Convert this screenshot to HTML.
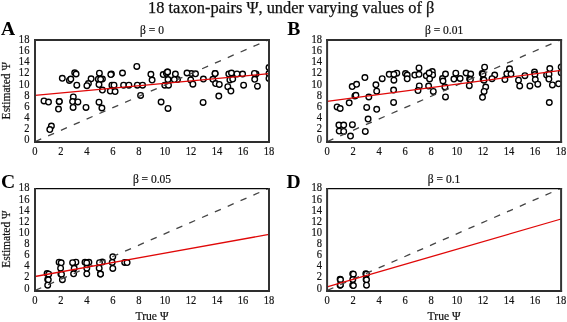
<!DOCTYPE html>
<html><head><meta charset="utf-8"><style>
html,body{margin:0;padding:0;background:#fff;}
body{width:567px;height:322px;overflow:hidden;}
svg{display:block;will-change:transform;}
</style></head><body>
<svg width="567" height="322" viewBox="0 0 567 322">
<rect width="567" height="322" fill="#fff"/>
<text x="291.2" y="13.3" font-size="16.4" text-anchor="middle" font-family='"Liberation Serif", serif' fill="#111" stroke="#111" stroke-width="0.25">18 taxon-pairs Ψ, under varying values of β</text>
<clipPath id="clipA"><rect x="35.0" y="40.0" width="234.0" height="102.0"/></clipPath>
<g fill="#fff" stroke="#000" stroke-width="1.35" clip-path="url(#clipA)">
<circle cx="62.3" cy="78.3" r="2.8"/>
<circle cx="69.4" cy="80.4" r="2.8"/>
<circle cx="70.8" cy="79.1" r="2.8"/>
<circle cx="74.7" cy="72.8" r="2.8"/>
<circle cx="76.1" cy="74" r="2.8"/>
<circle cx="76.8" cy="85.2" r="2.8"/>
<circle cx="91.1" cy="78.8" r="2.8"/>
<circle cx="88.4" cy="83.6" r="2.8"/>
<circle cx="86.9" cy="85.7" r="2.8"/>
<circle cx="44" cy="100.9" r="2.8"/>
<circle cx="48.5" cy="102.1" r="2.8"/>
<circle cx="59.2" cy="101.4" r="2.8"/>
<circle cx="59.3" cy="101.5" r="2.8"/>
<circle cx="58.5" cy="109.1" r="2.8"/>
<circle cx="73.3" cy="96.9" r="2.8"/>
<circle cx="72.6" cy="101.6" r="2.8"/>
<circle cx="77.9" cy="101.9" r="2.8"/>
<circle cx="73.1" cy="107.4" r="2.8"/>
<circle cx="86" cy="107.4" r="2.8"/>
<circle cx="51.4" cy="126" r="2.8"/>
<circle cx="49.8" cy="129.5" r="2.8"/>
<circle cx="99.4" cy="73.2" r="2.8"/>
<circle cx="98.3" cy="79.2" r="2.8"/>
<circle cx="102.4" cy="79.1" r="2.8"/>
<circle cx="100.6" cy="79.3" r="2.8"/>
<circle cx="99" cy="84.6" r="2.8"/>
<circle cx="111.4" cy="74" r="2.8"/>
<circle cx="110.8" cy="74.6" r="2.8"/>
<circle cx="122.5" cy="73" r="2.8"/>
<circle cx="136.8" cy="66.4" r="2.8"/>
<circle cx="150.9" cy="74.3" r="2.8"/>
<circle cx="152.1" cy="80.1" r="2.8"/>
<circle cx="111.9" cy="85.2" r="2.8"/>
<circle cx="114" cy="85.2" r="2.8"/>
<circle cx="123.6" cy="85.2" r="2.8"/>
<circle cx="128.9" cy="85.2" r="2.8"/>
<circle cx="137.3" cy="85.2" r="2.8"/>
<circle cx="142.6" cy="85.2" r="2.8"/>
<circle cx="102.4" cy="90.1" r="2.8"/>
<circle cx="110.3" cy="91.1" r="2.8"/>
<circle cx="115.1" cy="91.6" r="2.8"/>
<circle cx="140.6" cy="95.4" r="2.8"/>
<circle cx="99" cy="102.2" r="2.8"/>
<circle cx="101.9" cy="108" r="2.8"/>
<circle cx="163.2" cy="74.6" r="2.8"/>
<circle cx="166.4" cy="73.3" r="2.8"/>
<circle cx="167.5" cy="71.9" r="2.8"/>
<circle cx="167.6" cy="72.0" r="2.8"/>
<circle cx="175.4" cy="74" r="2.8"/>
<circle cx="168" cy="79.6" r="2.8"/>
<circle cx="177.5" cy="79.6" r="2.8"/>
<circle cx="174.3" cy="79.6" r="2.8"/>
<circle cx="164.8" cy="85.2" r="2.8"/>
<circle cx="168.5" cy="85.2" r="2.8"/>
<circle cx="191.3" cy="73.5" r="2.8"/>
<circle cx="187" cy="73" r="2.8"/>
<circle cx="195.5" cy="73.8" r="2.8"/>
<circle cx="190.7" cy="79.9" r="2.8"/>
<circle cx="192.9" cy="84.2" r="2.8"/>
<circle cx="203.4" cy="79.1" r="2.8"/>
<circle cx="161.1" cy="102" r="2.8"/>
<circle cx="168" cy="108.4" r="2.8"/>
<circle cx="203.1" cy="102.4" r="2.8"/>
<circle cx="215.1" cy="73.5" r="2.8"/>
<circle cx="215.1" cy="73.6" r="2.8"/>
<circle cx="212.9" cy="79.3" r="2.8"/>
<circle cx="215.6" cy="83.6" r="2.8"/>
<circle cx="219.3" cy="84.4" r="2.8"/>
<circle cx="228.8" cy="74" r="2.8"/>
<circle cx="231.5" cy="73" r="2.8"/>
<circle cx="237.0" cy="73.9" r="2.8"/>
<circle cx="242.6" cy="74" r="2.8"/>
<circle cx="229.9" cy="79.9" r="2.8"/>
<circle cx="232.7" cy="79.1" r="2.8"/>
<circle cx="227.8" cy="86.7" r="2.8"/>
<circle cx="230.9" cy="91.1" r="2.8"/>
<circle cx="243.6" cy="85.2" r="2.8"/>
<circle cx="256.0" cy="74.0" r="2.8"/>
<circle cx="254.4" cy="73.4" r="2.8"/>
<circle cx="254.7" cy="79.3" r="2.8"/>
<circle cx="257.4" cy="86.2" r="2.8"/>
<circle cx="218.8" cy="96.1" r="2.8"/>
<circle cx="269" cy="67.5" r="2.8"/>
<circle cx="269" cy="73.6" r="2.8"/>
<circle cx="269" cy="78.4" r="2.8"/>
</g>
<line x1="35.0" y1="141.6" x2="269.0" y2="39.6" stroke="#444" stroke-width="1.3" stroke-dasharray="6.5 7.5" stroke-dashoffset="-0.3" clip-path="url(#clipA)"/>
<line x1="35.0" y1="95.3" x2="269.0" y2="73.7" stroke="#e00808" stroke-width="1.3"/>
<line x1="34.0" y1="40.0" x2="270.0" y2="40.0" stroke="#2e2e2e" stroke-width="2"/>
<line x1="34.0" y1="142.0" x2="270.0" y2="142.0" stroke="#2e2e2e" stroke-width="2"/>
<line x1="35.0" y1="39.35" x2="35.0" y2="143.0" stroke="#333" stroke-width="2"/>
<line x1="269.0" y1="39.35" x2="269.0" y2="143.0" stroke="#333" stroke-width="2"/>
<text transform="translate(29.40,143.20) scale(0.85,1)" font-size="12.4" text-anchor="end" font-family='"Liberation Serif", serif' fill="#111" stroke="#111" stroke-width="0.2">0</text>
<text transform="translate(29.40,132.07) scale(0.85,1)" font-size="12.4" text-anchor="end" font-family='"Liberation Serif", serif' fill="#111" stroke="#111" stroke-width="0.2">2</text>
<text transform="translate(29.40,120.94) scale(0.85,1)" font-size="12.4" text-anchor="end" font-family='"Liberation Serif", serif' fill="#111" stroke="#111" stroke-width="0.2">4</text>
<text transform="translate(29.40,109.81) scale(0.85,1)" font-size="12.4" text-anchor="end" font-family='"Liberation Serif", serif' fill="#111" stroke="#111" stroke-width="0.2">6</text>
<text transform="translate(29.40,98.68) scale(0.85,1)" font-size="12.4" text-anchor="end" font-family='"Liberation Serif", serif' fill="#111" stroke="#111" stroke-width="0.2">8</text>
<text transform="translate(29.40,87.55) scale(0.85,1)" font-size="12.4" text-anchor="end" font-family='"Liberation Serif", serif' fill="#111" stroke="#111" stroke-width="0.2">10</text>
<text transform="translate(29.40,76.42) scale(0.85,1)" font-size="12.4" text-anchor="end" font-family='"Liberation Serif", serif' fill="#111" stroke="#111" stroke-width="0.2">12</text>
<text transform="translate(29.40,65.29) scale(0.85,1)" font-size="12.4" text-anchor="end" font-family='"Liberation Serif", serif' fill="#111" stroke="#111" stroke-width="0.2">14</text>
<text transform="translate(29.40,54.16) scale(0.85,1)" font-size="12.4" text-anchor="end" font-family='"Liberation Serif", serif' fill="#111" stroke="#111" stroke-width="0.2">16</text>
<text transform="translate(29.40,43.03) scale(0.85,1)" font-size="12.4" text-anchor="end" font-family='"Liberation Serif", serif' fill="#111" stroke="#111" stroke-width="0.2">18</text>
<text transform="translate(35.00,155.00) scale(0.85,1)" font-size="12.4" text-anchor="middle" font-family='"Liberation Serif", serif' fill="#111" stroke="#111" stroke-width="0.2">0</text>
<text transform="translate(61.00,155.00) scale(0.85,1)" font-size="12.4" text-anchor="middle" font-family='"Liberation Serif", serif' fill="#111" stroke="#111" stroke-width="0.2">2</text>
<text transform="translate(87.00,155.00) scale(0.85,1)" font-size="12.4" text-anchor="middle" font-family='"Liberation Serif", serif' fill="#111" stroke="#111" stroke-width="0.2">4</text>
<text transform="translate(113.00,155.00) scale(0.85,1)" font-size="12.4" text-anchor="middle" font-family='"Liberation Serif", serif' fill="#111" stroke="#111" stroke-width="0.2">6</text>
<text transform="translate(139.00,155.00) scale(0.85,1)" font-size="12.4" text-anchor="middle" font-family='"Liberation Serif", serif' fill="#111" stroke="#111" stroke-width="0.2">8</text>
<text transform="translate(165.00,155.00) scale(0.85,1)" font-size="12.4" text-anchor="middle" font-family='"Liberation Serif", serif' fill="#111" stroke="#111" stroke-width="0.2">10</text>
<text transform="translate(191.00,155.00) scale(0.85,1)" font-size="12.4" text-anchor="middle" font-family='"Liberation Serif", serif' fill="#111" stroke="#111" stroke-width="0.2">12</text>
<text transform="translate(217.00,155.00) scale(0.85,1)" font-size="12.4" text-anchor="middle" font-family='"Liberation Serif", serif' fill="#111" stroke="#111" stroke-width="0.2">14</text>
<text transform="translate(243.00,155.00) scale(0.85,1)" font-size="12.4" text-anchor="middle" font-family='"Liberation Serif", serif' fill="#111" stroke="#111" stroke-width="0.2">16</text>
<text transform="translate(269.00,155.00) scale(0.85,1)" font-size="12.4" text-anchor="middle" font-family='"Liberation Serif", serif' fill="#111" stroke="#111" stroke-width="0.2">18</text>
<text x="152.00" y="33.70" font-size="11.5" text-anchor="middle" font-family='"Liberation Serif", serif' fill="#111" stroke="#111" stroke-width="0.2">β = 0</text>
<text x="1.0" y="35.0" font-size="19.6" font-weight="bold" font-family='"Liberation Serif", serif' fill="#000">A</text>
<text transform="translate(9.7,90.7) rotate(-90) scale(0.96,1)" x="0" y="0" font-size="12" text-anchor="middle" font-family='"Liberation Serif", serif' fill="#111" stroke="#111" stroke-width="0.2">Estimated Ψ</text>
<clipPath id="clipB"><rect x="327.1" y="40.0" width="234.0" height="102.0"/></clipPath>
<g fill="#fff" stroke="#000" stroke-width="1.35" clip-path="url(#clipB)">
<circle cx="352.2" cy="86.6" r="2.8"/>
<circle cx="356.6" cy="84.3" r="2.8"/>
<circle cx="364.9" cy="77.6" r="2.8"/>
<circle cx="354.9" cy="95.9" r="2.8"/>
<circle cx="355.9" cy="95.3" r="2.8"/>
<circle cx="368.8" cy="97" r="2.8"/>
<circle cx="375.9" cy="84.8" r="2.8"/>
<circle cx="376.7" cy="91.2" r="2.8"/>
<circle cx="382.2" cy="78.7" r="2.8"/>
<circle cx="349.2" cy="102.8" r="2.8"/>
<circle cx="337.1" cy="106.9" r="2.8"/>
<circle cx="340.2" cy="108.5" r="2.8"/>
<circle cx="366.7" cy="107.4" r="2.8"/>
<circle cx="376.7" cy="109.3" r="2.8"/>
<circle cx="368.1" cy="119.1" r="2.8"/>
<circle cx="338.9" cy="125.1" r="2.8"/>
<circle cx="343.7" cy="125.1" r="2.8"/>
<circle cx="352.4" cy="124.7" r="2.8"/>
<circle cx="339.2" cy="131.1" r="2.8"/>
<circle cx="343.7" cy="131.4" r="2.8"/>
<circle cx="350.5" cy="136" r="2.8"/>
<circle cx="365.3" cy="131.4" r="2.8"/>
<circle cx="389.2" cy="74.3" r="2.8"/>
<circle cx="396.8" cy="73.2" r="2.8"/>
<circle cx="393.9" cy="74.3" r="2.8"/>
<circle cx="393.9" cy="80.2" r="2.8"/>
<circle cx="405.5" cy="73.5" r="2.8"/>
<circle cx="407.2" cy="75.1" r="2.8"/>
<circle cx="407.2" cy="78.8" r="2.8"/>
<circle cx="419" cy="67.9" r="2.8"/>
<circle cx="414.8" cy="75.1" r="2.8"/>
<circle cx="419" cy="74.3" r="2.8"/>
<circle cx="432.3" cy="71.6" r="2.8"/>
<circle cx="432.6" cy="74.9" r="2.8"/>
<circle cx="426.3" cy="75.8" r="2.8"/>
<circle cx="429.1" cy="73.0" r="2.8"/>
<circle cx="429.6" cy="78.9" r="2.8"/>
<circle cx="419.3" cy="85.9" r="2.8"/>
<circle cx="428.6" cy="86.1" r="2.8"/>
<circle cx="442.5" cy="78.5" r="2.8"/>
<circle cx="443.0" cy="81.0" r="2.8"/>
<circle cx="393.6" cy="90.1" r="2.8"/>
<circle cx="393.6" cy="102.4" r="2.8"/>
<circle cx="418" cy="90.6" r="2.8"/>
<circle cx="433.3" cy="91.4" r="2.8"/>
<circle cx="445.5" cy="74" r="2.8"/>
<circle cx="444.9" cy="86.9" r="2.8"/>
<circle cx="445.5" cy="96.9" r="2.8"/>
<circle cx="455.8" cy="73.2" r="2.8"/>
<circle cx="453.9" cy="79.1" r="2.8"/>
<circle cx="460.1" cy="78.5" r="2.8"/>
<circle cx="466.1" cy="73" r="2.8"/>
<circle cx="470.7" cy="74" r="2.8"/>
<circle cx="469.6" cy="79.0" r="2.8"/>
<circle cx="470.4" cy="79.6" r="2.8"/>
<circle cx="469.3" cy="85.7" r="2.8"/>
<circle cx="484.6" cy="67.2" r="2.8"/>
<circle cx="482.2" cy="73.6" r="2.8"/>
<circle cx="483.0" cy="74.2" r="2.8"/>
<circle cx="483.2" cy="79.6" r="2.8"/>
<circle cx="484.0" cy="80.2" r="2.8"/>
<circle cx="485.7" cy="87" r="2.8"/>
<circle cx="484.1" cy="91.4" r="2.8"/>
<circle cx="482.5" cy="97.3" r="2.8"/>
<circle cx="494.7" cy="75" r="2.8"/>
<circle cx="492" cy="78.7" r="2.8"/>
<circle cx="509.5" cy="68.8" r="2.8"/>
<circle cx="506.8" cy="73.8" r="2.8"/>
<circle cx="511" cy="74" r="2.8"/>
<circle cx="504.9" cy="79.6" r="2.8"/>
<circle cx="518.5" cy="80.2" r="2.8"/>
<circle cx="519.7" cy="85.9" r="2.8"/>
<circle cx="524.9" cy="75.7" r="2.8"/>
<circle cx="529.9" cy="85.9" r="2.8"/>
<circle cx="534.5" cy="72" r="2.8"/>
<circle cx="534.9" cy="74.5" r="2.8"/>
<circle cx="535.3" cy="79.6" r="2.8"/>
<circle cx="537.8" cy="84.2" r="2.8"/>
<circle cx="549.8" cy="68.6" r="2.8"/>
<circle cx="546.6" cy="74.9" r="2.8"/>
<circle cx="549" cy="74.2" r="2.8"/>
<circle cx="548.9" cy="79.1" r="2.8"/>
<circle cx="552.4" cy="84.9" r="2.8"/>
<circle cx="558.6" cy="83.8" r="2.8"/>
<circle cx="549.3" cy="102.5" r="2.8"/>
<circle cx="561.2" cy="67" r="2.8"/>
<circle cx="561.2" cy="72.8" r="2.8"/>
</g>
<line x1="327.1" y1="141.6" x2="561.1" y2="39.6" stroke="#444" stroke-width="1.3" stroke-dasharray="6.5 7.5" stroke-dashoffset="-0.3" clip-path="url(#clipB)"/>
<line x1="327.1" y1="101.3" x2="561.1" y2="70.4" stroke="#e00808" stroke-width="1.3"/>
<line x1="326.1" y1="40.0" x2="562.1" y2="40.0" stroke="#2e2e2e" stroke-width="2"/>
<line x1="326.1" y1="142.0" x2="562.1" y2="142.0" stroke="#2e2e2e" stroke-width="2"/>
<line x1="327.1" y1="39.35" x2="327.1" y2="143.0" stroke="#333" stroke-width="2"/>
<line x1="561.1" y1="39.35" x2="561.1" y2="143.0" stroke="#333" stroke-width="2"/>
<text transform="translate(322.10,143.20) scale(0.85,1)" font-size="12.4" text-anchor="end" font-family='"Liberation Serif", serif' fill="#111" stroke="#111" stroke-width="0.2">0</text>
<text transform="translate(322.10,132.07) scale(0.85,1)" font-size="12.4" text-anchor="end" font-family='"Liberation Serif", serif' fill="#111" stroke="#111" stroke-width="0.2">2</text>
<text transform="translate(322.10,120.94) scale(0.85,1)" font-size="12.4" text-anchor="end" font-family='"Liberation Serif", serif' fill="#111" stroke="#111" stroke-width="0.2">4</text>
<text transform="translate(322.10,109.81) scale(0.85,1)" font-size="12.4" text-anchor="end" font-family='"Liberation Serif", serif' fill="#111" stroke="#111" stroke-width="0.2">6</text>
<text transform="translate(322.10,98.68) scale(0.85,1)" font-size="12.4" text-anchor="end" font-family='"Liberation Serif", serif' fill="#111" stroke="#111" stroke-width="0.2">8</text>
<text transform="translate(322.10,87.55) scale(0.85,1)" font-size="12.4" text-anchor="end" font-family='"Liberation Serif", serif' fill="#111" stroke="#111" stroke-width="0.2">10</text>
<text transform="translate(322.10,76.42) scale(0.85,1)" font-size="12.4" text-anchor="end" font-family='"Liberation Serif", serif' fill="#111" stroke="#111" stroke-width="0.2">12</text>
<text transform="translate(322.10,65.29) scale(0.85,1)" font-size="12.4" text-anchor="end" font-family='"Liberation Serif", serif' fill="#111" stroke="#111" stroke-width="0.2">14</text>
<text transform="translate(322.10,54.16) scale(0.85,1)" font-size="12.4" text-anchor="end" font-family='"Liberation Serif", serif' fill="#111" stroke="#111" stroke-width="0.2">16</text>
<text transform="translate(322.10,43.03) scale(0.85,1)" font-size="12.4" text-anchor="end" font-family='"Liberation Serif", serif' fill="#111" stroke="#111" stroke-width="0.2">18</text>
<text transform="translate(327.10,155.00) scale(0.85,1)" font-size="12.4" text-anchor="middle" font-family='"Liberation Serif", serif' fill="#111" stroke="#111" stroke-width="0.2">0</text>
<text transform="translate(353.10,155.00) scale(0.85,1)" font-size="12.4" text-anchor="middle" font-family='"Liberation Serif", serif' fill="#111" stroke="#111" stroke-width="0.2">2</text>
<text transform="translate(379.10,155.00) scale(0.85,1)" font-size="12.4" text-anchor="middle" font-family='"Liberation Serif", serif' fill="#111" stroke="#111" stroke-width="0.2">4</text>
<text transform="translate(405.10,155.00) scale(0.85,1)" font-size="12.4" text-anchor="middle" font-family='"Liberation Serif", serif' fill="#111" stroke="#111" stroke-width="0.2">6</text>
<text transform="translate(431.10,155.00) scale(0.85,1)" font-size="12.4" text-anchor="middle" font-family='"Liberation Serif", serif' fill="#111" stroke="#111" stroke-width="0.2">8</text>
<text transform="translate(457.10,155.00) scale(0.85,1)" font-size="12.4" text-anchor="middle" font-family='"Liberation Serif", serif' fill="#111" stroke="#111" stroke-width="0.2">10</text>
<text transform="translate(483.10,155.00) scale(0.85,1)" font-size="12.4" text-anchor="middle" font-family='"Liberation Serif", serif' fill="#111" stroke="#111" stroke-width="0.2">12</text>
<text transform="translate(509.10,155.00) scale(0.85,1)" font-size="12.4" text-anchor="middle" font-family='"Liberation Serif", serif' fill="#111" stroke="#111" stroke-width="0.2">14</text>
<text transform="translate(535.10,155.00) scale(0.85,1)" font-size="12.4" text-anchor="middle" font-family='"Liberation Serif", serif' fill="#111" stroke="#111" stroke-width="0.2">16</text>
<text transform="translate(561.10,155.00) scale(0.85,1)" font-size="12.4" text-anchor="middle" font-family='"Liberation Serif", serif' fill="#111" stroke="#111" stroke-width="0.2">18</text>
<text x="444.10" y="33.70" font-size="11.5" text-anchor="middle" font-family='"Liberation Serif", serif' fill="#111" stroke="#111" stroke-width="0.2">β = 0.01</text>
<text x="287.3" y="35.0" font-size="19.6" font-weight="bold" font-family='"Liberation Serif", serif' fill="#000">B</text>
<clipPath id="clipC"><rect x="35.0" y="188.65" width="234.0" height="102.24999999999997"/></clipPath>
<g fill="#fff" stroke="#000" stroke-width="1.35" clip-path="url(#clipC)">
<circle cx="47.1" cy="273.55" r="2.8"/>
<circle cx="48.7" cy="274.15" r="2.8"/>
<circle cx="47.7" cy="279.53" r="2.8"/>
<circle cx="48.3" cy="279.83" r="2.8"/>
<circle cx="47.7" cy="285.22" r="2.8"/>
<circle cx="59.1" cy="262.18" r="2.8"/>
<circle cx="61.2" cy="262.78" r="2.8"/>
<circle cx="60.6" cy="268.17" r="2.8"/>
<circle cx="60.9" cy="273.95" r="2.8"/>
<circle cx="61.5" cy="274.35" r="2.8"/>
<circle cx="62.4" cy="279.73" r="2.8"/>
<circle cx="75.9" cy="262.18" r="2.8"/>
<circle cx="72.6" cy="262.68" r="2.8"/>
<circle cx="74.2" cy="268.27" r="2.8"/>
<circle cx="73.6" cy="273.75" r="2.8"/>
<circle cx="85.0" cy="262.28" r="2.8"/>
<circle cx="88.9" cy="262.28" r="2.8"/>
<circle cx="86.7" cy="262.98" r="2.8"/>
<circle cx="86.8" cy="268.27" r="2.8"/>
<circle cx="86.8" cy="273.85" r="2.8"/>
<circle cx="102.3" cy="262.08" r="2.8"/>
<circle cx="99.5" cy="262.68" r="2.8"/>
<circle cx="99.2" cy="268.17" r="2.8"/>
<circle cx="100.4" cy="273.95" r="2.8"/>
<circle cx="100.5" cy="274.05" r="2.8"/>
<circle cx="112.8" cy="256.8" r="2.8"/>
<circle cx="112.2" cy="262.48" r="2.8"/>
<circle cx="112.8" cy="268.47" r="2.8"/>
<circle cx="124.7" cy="262.48" r="2.8"/>
<circle cx="127.1" cy="262.58" r="2.8"/>
</g>
<line x1="35.0" y1="290.5" x2="269.0" y2="188.25" stroke="#444" stroke-width="1.3" stroke-dasharray="6.5 7.5" stroke-dashoffset="-0.3" clip-path="url(#clipC)"/>
<line x1="35.0" y1="276.5" x2="269.0" y2="234.4" stroke="#e00808" stroke-width="1.3"/>
<line x1="34.0" y1="188.65" x2="270.0" y2="188.65" stroke="#080808" stroke-width="1.3"/>
<line x1="34.0" y1="290.9" x2="270.0" y2="290.9" stroke="#2e2e2e" stroke-width="2"/>
<line x1="35.0" y1="188.0" x2="35.0" y2="291.9" stroke="#333" stroke-width="2"/>
<line x1="269.0" y1="188.0" x2="269.0" y2="291.9" stroke="#333" stroke-width="2"/>
<text transform="translate(29.40,291.60) scale(0.85,1)" font-size="12.4" text-anchor="end" font-family='"Liberation Serif", serif' fill="#111" stroke="#111" stroke-width="0.2">0</text>
<text transform="translate(29.40,280.47) scale(0.85,1)" font-size="12.4" text-anchor="end" font-family='"Liberation Serif", serif' fill="#111" stroke="#111" stroke-width="0.2">2</text>
<text transform="translate(29.40,269.34) scale(0.85,1)" font-size="12.4" text-anchor="end" font-family='"Liberation Serif", serif' fill="#111" stroke="#111" stroke-width="0.2">4</text>
<text transform="translate(29.40,258.21) scale(0.85,1)" font-size="12.4" text-anchor="end" font-family='"Liberation Serif", serif' fill="#111" stroke="#111" stroke-width="0.2">6</text>
<text transform="translate(29.40,247.08) scale(0.85,1)" font-size="12.4" text-anchor="end" font-family='"Liberation Serif", serif' fill="#111" stroke="#111" stroke-width="0.2">8</text>
<text transform="translate(29.40,235.95) scale(0.85,1)" font-size="12.4" text-anchor="end" font-family='"Liberation Serif", serif' fill="#111" stroke="#111" stroke-width="0.2">10</text>
<text transform="translate(29.40,224.82) scale(0.85,1)" font-size="12.4" text-anchor="end" font-family='"Liberation Serif", serif' fill="#111" stroke="#111" stroke-width="0.2">12</text>
<text transform="translate(29.40,213.69) scale(0.85,1)" font-size="12.4" text-anchor="end" font-family='"Liberation Serif", serif' fill="#111" stroke="#111" stroke-width="0.2">14</text>
<text transform="translate(29.40,202.56) scale(0.85,1)" font-size="12.4" text-anchor="end" font-family='"Liberation Serif", serif' fill="#111" stroke="#111" stroke-width="0.2">16</text>
<text transform="translate(29.40,191.43) scale(0.85,1)" font-size="12.4" text-anchor="end" font-family='"Liberation Serif", serif' fill="#111" stroke="#111" stroke-width="0.2">18</text>
<text transform="translate(35.00,303.90) scale(0.85,1)" font-size="12.4" text-anchor="middle" font-family='"Liberation Serif", serif' fill="#111" stroke="#111" stroke-width="0.2">0</text>
<text transform="translate(61.00,303.90) scale(0.85,1)" font-size="12.4" text-anchor="middle" font-family='"Liberation Serif", serif' fill="#111" stroke="#111" stroke-width="0.2">2</text>
<text transform="translate(87.00,303.90) scale(0.85,1)" font-size="12.4" text-anchor="middle" font-family='"Liberation Serif", serif' fill="#111" stroke="#111" stroke-width="0.2">4</text>
<text transform="translate(113.00,303.90) scale(0.85,1)" font-size="12.4" text-anchor="middle" font-family='"Liberation Serif", serif' fill="#111" stroke="#111" stroke-width="0.2">6</text>
<text transform="translate(139.00,303.90) scale(0.85,1)" font-size="12.4" text-anchor="middle" font-family='"Liberation Serif", serif' fill="#111" stroke="#111" stroke-width="0.2">8</text>
<text transform="translate(165.00,303.90) scale(0.85,1)" font-size="12.4" text-anchor="middle" font-family='"Liberation Serif", serif' fill="#111" stroke="#111" stroke-width="0.2">10</text>
<text transform="translate(191.00,303.90) scale(0.85,1)" font-size="12.4" text-anchor="middle" font-family='"Liberation Serif", serif' fill="#111" stroke="#111" stroke-width="0.2">12</text>
<text transform="translate(217.00,303.90) scale(0.85,1)" font-size="12.4" text-anchor="middle" font-family='"Liberation Serif", serif' fill="#111" stroke="#111" stroke-width="0.2">14</text>
<text transform="translate(243.00,303.90) scale(0.85,1)" font-size="12.4" text-anchor="middle" font-family='"Liberation Serif", serif' fill="#111" stroke="#111" stroke-width="0.2">16</text>
<text transform="translate(269.00,303.90) scale(0.85,1)" font-size="12.4" text-anchor="middle" font-family='"Liberation Serif", serif' fill="#111" stroke="#111" stroke-width="0.2">18</text>
<text x="152.00" y="182.85" font-size="11.5" text-anchor="middle" font-family='"Liberation Serif", serif' fill="#111" stroke="#111" stroke-width="0.2">β = 0.05</text>
<text x="1.0" y="188.0" font-size="19.6" font-weight="bold" font-family='"Liberation Serif", serif' fill="#000">C</text>
<text transform="translate(9.7,239.10000000000002) rotate(-90) scale(0.96,1)" x="0" y="0" font-size="12" text-anchor="middle" font-family='"Liberation Serif", serif' fill="#111" stroke="#111" stroke-width="0.2">Estimated Ψ</text>
<text transform="translate(152.00,320.4) scale(0.97,1)" font-size="12" text-anchor="middle" font-family='"Liberation Serif", serif' fill="#111" stroke="#111" stroke-width="0.2">True Ψ</text>
<clipPath id="clipD"><rect x="327.1" y="188.65" width="234.0" height="102.24999999999997"/></clipPath>
<g fill="#fff" stroke="#000" stroke-width="1.35" clip-path="url(#clipD)">
<circle cx="340.1" cy="279.33" r="2.8"/>
<circle cx="340.5" cy="279.83" r="2.8"/>
<circle cx="340.1" cy="285.22" r="2.8"/>
<circle cx="340.4" cy="284.92" r="2.8"/>
<circle cx="352.7" cy="273.85" r="2.8"/>
<circle cx="353.4" cy="274.15" r="2.8"/>
<circle cx="352.8" cy="279.53" r="2.8"/>
<circle cx="352.7" cy="285.22" r="2.8"/>
<circle cx="353.4" cy="285.52" r="2.8"/>
<circle cx="365.8" cy="273.65" r="2.8"/>
<circle cx="366.5" cy="274.15" r="2.8"/>
<circle cx="366.1" cy="279.53" r="2.8"/>
<circle cx="366.5" cy="279.83" r="2.8"/>
<circle cx="366.5" cy="285.22" r="2.8"/>
</g>
<line x1="327.1" y1="290.5" x2="561.1" y2="188.25" stroke="#444" stroke-width="1.3" stroke-dasharray="6.5 7.5" stroke-dashoffset="-0.3" clip-path="url(#clipD)"/>
<line x1="327.1" y1="286.9" x2="561.1" y2="219.0" stroke="#e00808" stroke-width="1.3"/>
<line x1="326.1" y1="188.65" x2="562.1" y2="188.65" stroke="#080808" stroke-width="1.3"/>
<line x1="326.1" y1="290.9" x2="562.1" y2="290.9" stroke="#2e2e2e" stroke-width="2"/>
<line x1="327.1" y1="188.0" x2="327.1" y2="291.9" stroke="#333" stroke-width="2"/>
<line x1="561.1" y1="188.0" x2="561.1" y2="291.9" stroke="#333" stroke-width="2"/>
<text transform="translate(322.10,291.60) scale(0.85,1)" font-size="12.4" text-anchor="end" font-family='"Liberation Serif", serif' fill="#111" stroke="#111" stroke-width="0.2">0</text>
<text transform="translate(322.10,280.47) scale(0.85,1)" font-size="12.4" text-anchor="end" font-family='"Liberation Serif", serif' fill="#111" stroke="#111" stroke-width="0.2">2</text>
<text transform="translate(322.10,269.34) scale(0.85,1)" font-size="12.4" text-anchor="end" font-family='"Liberation Serif", serif' fill="#111" stroke="#111" stroke-width="0.2">4</text>
<text transform="translate(322.10,258.21) scale(0.85,1)" font-size="12.4" text-anchor="end" font-family='"Liberation Serif", serif' fill="#111" stroke="#111" stroke-width="0.2">6</text>
<text transform="translate(322.10,247.08) scale(0.85,1)" font-size="12.4" text-anchor="end" font-family='"Liberation Serif", serif' fill="#111" stroke="#111" stroke-width="0.2">8</text>
<text transform="translate(322.10,235.95) scale(0.85,1)" font-size="12.4" text-anchor="end" font-family='"Liberation Serif", serif' fill="#111" stroke="#111" stroke-width="0.2">10</text>
<text transform="translate(322.10,224.82) scale(0.85,1)" font-size="12.4" text-anchor="end" font-family='"Liberation Serif", serif' fill="#111" stroke="#111" stroke-width="0.2">12</text>
<text transform="translate(322.10,213.69) scale(0.85,1)" font-size="12.4" text-anchor="end" font-family='"Liberation Serif", serif' fill="#111" stroke="#111" stroke-width="0.2">14</text>
<text transform="translate(322.10,202.56) scale(0.85,1)" font-size="12.4" text-anchor="end" font-family='"Liberation Serif", serif' fill="#111" stroke="#111" stroke-width="0.2">16</text>
<text transform="translate(322.10,191.43) scale(0.85,1)" font-size="12.4" text-anchor="end" font-family='"Liberation Serif", serif' fill="#111" stroke="#111" stroke-width="0.2">18</text>
<text transform="translate(327.10,303.90) scale(0.85,1)" font-size="12.4" text-anchor="middle" font-family='"Liberation Serif", serif' fill="#111" stroke="#111" stroke-width="0.2">0</text>
<text transform="translate(353.10,303.90) scale(0.85,1)" font-size="12.4" text-anchor="middle" font-family='"Liberation Serif", serif' fill="#111" stroke="#111" stroke-width="0.2">2</text>
<text transform="translate(379.10,303.90) scale(0.85,1)" font-size="12.4" text-anchor="middle" font-family='"Liberation Serif", serif' fill="#111" stroke="#111" stroke-width="0.2">4</text>
<text transform="translate(405.10,303.90) scale(0.85,1)" font-size="12.4" text-anchor="middle" font-family='"Liberation Serif", serif' fill="#111" stroke="#111" stroke-width="0.2">6</text>
<text transform="translate(431.10,303.90) scale(0.85,1)" font-size="12.4" text-anchor="middle" font-family='"Liberation Serif", serif' fill="#111" stroke="#111" stroke-width="0.2">8</text>
<text transform="translate(457.10,303.90) scale(0.85,1)" font-size="12.4" text-anchor="middle" font-family='"Liberation Serif", serif' fill="#111" stroke="#111" stroke-width="0.2">10</text>
<text transform="translate(483.10,303.90) scale(0.85,1)" font-size="12.4" text-anchor="middle" font-family='"Liberation Serif", serif' fill="#111" stroke="#111" stroke-width="0.2">12</text>
<text transform="translate(509.10,303.90) scale(0.85,1)" font-size="12.4" text-anchor="middle" font-family='"Liberation Serif", serif' fill="#111" stroke="#111" stroke-width="0.2">14</text>
<text transform="translate(535.10,303.90) scale(0.85,1)" font-size="12.4" text-anchor="middle" font-family='"Liberation Serif", serif' fill="#111" stroke="#111" stroke-width="0.2">16</text>
<text transform="translate(561.10,303.90) scale(0.85,1)" font-size="12.4" text-anchor="middle" font-family='"Liberation Serif", serif' fill="#111" stroke="#111" stroke-width="0.2">18</text>
<text x="444.10" y="182.85" font-size="11.5" text-anchor="middle" font-family='"Liberation Serif", serif' fill="#111" stroke="#111" stroke-width="0.2">β = 0.1</text>
<text x="286.6" y="187.8" font-size="19.6" font-weight="bold" font-family='"Liberation Serif", serif' fill="#000">D</text>
<text transform="translate(444.10,320.4) scale(0.97,1)" font-size="12" text-anchor="middle" font-family='"Liberation Serif", serif' fill="#111" stroke="#111" stroke-width="0.2">True Ψ</text>
</svg>
</body></html>
